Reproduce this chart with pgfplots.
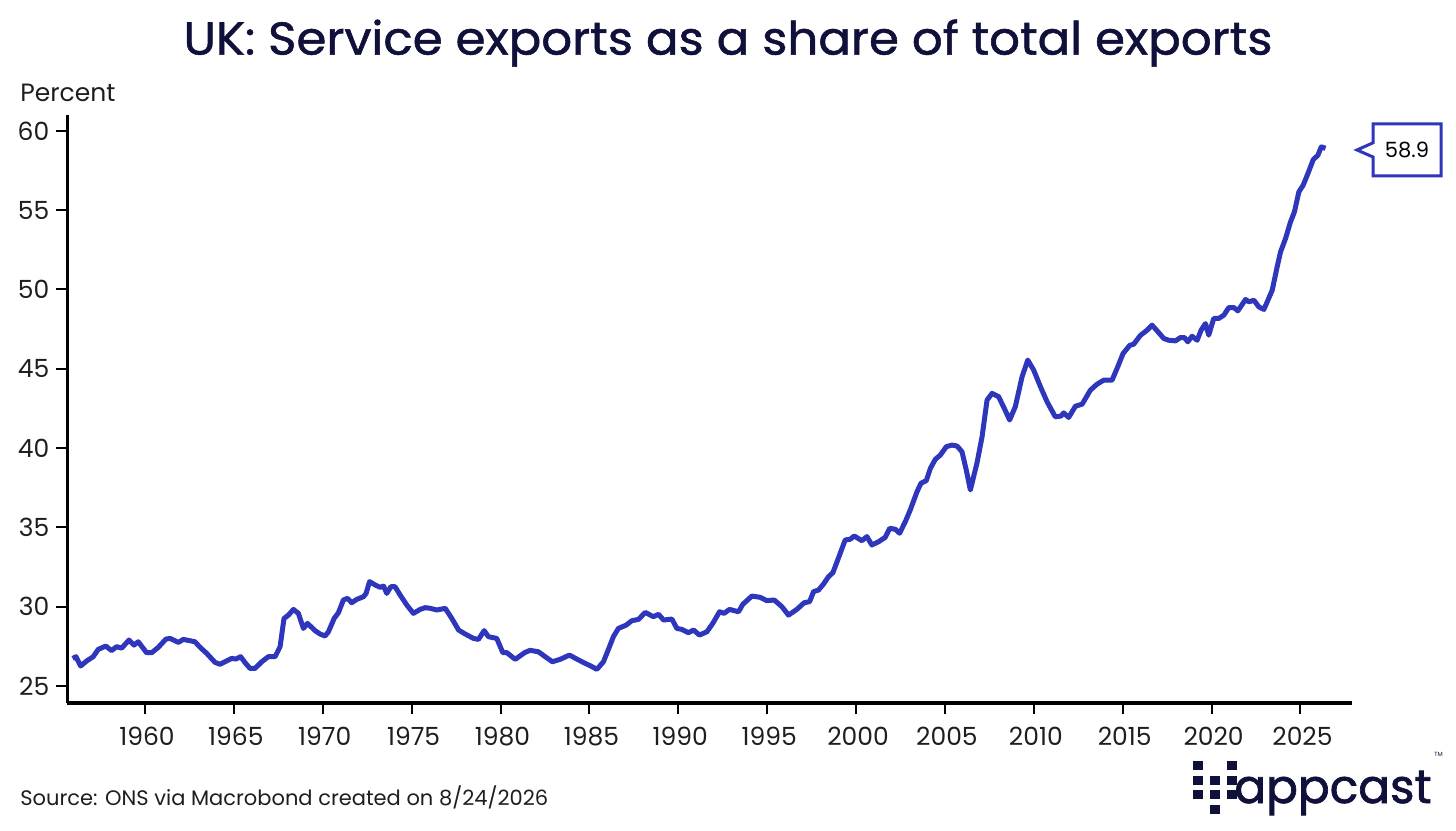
\documentclass[border=0pt]{standalone}
\usepackage{fontspec}
\setmainfont{Poppins}
\newfontfamily\titlefont[FakeBold=1.2, FakeStretch=1.05]{Poppins}
\newfontfamily\logofont[FakeBold=1.5]{Poppins}
\usepackage{pgfplots}
\pgfplotsset{compat=1.18}
\definecolor{lineblue}{HTML}{2E36BC}
\definecolor{navy}{HTML}{10113A}
\definecolor{txt}{HTML}{1E1E1E}
\begin{document}
\begin{tikzpicture}[x=1pt,y=1pt]
\path[use as bounding box] (0,0) rectangle (728,415);
\begin{axis}[
  at={(33.65pt,63.35pt)}, anchor=south west,
  scale only axis, width=642.35pt, height=294.15pt,
  xmin=1955.63, xmax=2027.9, ymin=23.91, ymax=61,
  axis x line=bottom, axis y line=left,
  axis line style={-, line width=1.8pt, black},
  xtick={1960,1965,...,2025}, ytick={25,30,...,60},
  tick align=outside, major tick length=5.5pt,
  tick style={line width=1pt, black},
  ticklabel style={font=\fontsize{12.5}{14}\selectfont, text=txt},
  xticklabel style={yshift=-3pt, xshift=1pt},
  /pgf/number format/assume math mode=true,
  /pgf/number format/1000 sep={},
  clip=false,
]
\addplot[lineblue, line width=2.5pt, line join=round] coordinates {
(1955.93,26.74)(1956.12,26.85)(1956.38,26.26)(1956.72,26.58)(1957.09,26.85)(1957.37,27.31)(1957.80,27.52)(1958.12,27.23)(1958.40,27.48)(1958.69,27.39)
(1959.10,27.90)(1959.38,27.58)(1959.62,27.79)(1960.09,27.10)(1960.38,27.10)(1960.75,27.44)(1961.18,27.96)(1961.41,28.00)(1961.88,27.75)(1962.16,27.94)
(1962.81,27.79)(1963.10,27.44)(1963.47,27.06)(1963.94,26.49)(1964.22,26.37)(1964.50,26.53)(1964.88,26.74)(1965.12,26.70)(1965.38,26.85)(1965.63,26.47)
(1965.91,26.11)(1966.19,26.11)(1966.57,26.53)(1966.94,26.85)(1967.32,26.85)(1967.60,27.48)(1967.82,29.26)(1968.07,29.47)(1968.35,29.83)(1968.63,29.58)
(1968.91,28.63)(1969.14,28.95)(1969.57,28.49)(1969.85,28.28)(1970.13,28.15)(1970.32,28.42)(1970.64,29.26)(1970.88,29.62)(1971.16,30.42)(1971.39,30.53)
(1971.63,30.25)(1971.91,30.46)(1972.29,30.63)(1972.44,30.84)(1972.63,31.58)(1972.95,31.37)(1973.23,31.22)(1973.42,31.30)(1973.60,30.84)(1973.83,31.26)
(1974.07,31.26)(1974.35,30.74)(1974.73,30.10)(1975.10,29.58)(1975.48,29.83)(1975.76,29.94)(1976.04,29.90)(1976.42,29.79)(1976.89,29.90)(1977.26,29.26)
(1977.64,28.53)(1978.01,28.28)(1978.48,28.00)(1978.76,27.94)(1979.08,28.49)(1979.32,28.11)(1979.79,28.00)(1980.13,27.10)(1980.36,27.10)(1980.83,26.68)
(1981.35,27.10)(1981.66,27.25)(1982.13,27.16)(1982.51,26.85)(1982.92,26.53)(1983.35,26.68)(1983.88,26.95)(1984.29,26.70)(1984.76,26.43)(1985.08,26.26)
(1985.42,26.05)(1985.79,26.53)(1986.07,27.31)(1986.35,28.11)(1986.63,28.63)(1987.07,28.84)(1987.39,29.12)(1987.76,29.20)(1988.14,29.64)(1988.60,29.37)
(1988.89,29.52)(1989.17,29.16)(1989.64,29.22)(1989.92,28.63)(1990.20,28.57)(1990.57,28.36)(1990.86,28.53)(1991.19,28.21)(1991.61,28.42)(1991.94,28.95)
(1992.32,29.68)(1992.58,29.58)(1992.88,29.83)(1993.39,29.68)(1993.63,30.15)(1994.14,30.67)(1994.61,30.59)(1994.98,30.38)(1995.40,30.42)(1995.83,30.00)
(1996.20,29.47)(1996.67,29.83)(1997.08,30.25)(1997.39,30.32)(1997.61,30.95)(1997.89,31.05)(1998.17,31.43)(1998.45,31.89)(1998.70,32.15)(1999.02,33.10)
(1999.39,34.21)(1999.67,34.25)(1999.90,34.46)(2000.33,34.16)(2000.61,34.42)(2000.89,33.89)(2001.27,34.10)(2001.64,34.37)(2001.89,34.94)(2002.21,34.88)
(2002.45,34.63)(2002.77,35.36)(2003.05,36.10)(2003.43,37.25)(2003.65,37.78)(2003.95,37.95)(2004.18,38.72)(2004.46,39.29)(2004.74,39.56)(2005.08,40.09)
(2005.40,40.19)(2005.68,40.13)(2005.96,39.77)(2006.20,38.62)(2006.43,37.36)(2006.80,39.04)(2007.09,40.72)(2007.37,43.03)(2007.65,43.45)(2008.02,43.24)
(2008.34,42.50)(2008.64,41.77)(2008.96,42.61)(2009.34,44.50)(2009.66,45.55)(2009.99,44.92)(2010.40,43.80)(2010.75,42.91)(2011.21,41.97)(2011.53,42.02)
(2011.68,42.22)(2011.96,41.93)(2012.34,42.64)(2012.72,42.77)(2013.18,43.65)(2013.56,44.03)(2013.93,44.28)(2014.40,44.28)(2014.72,45.12)(2015.02,45.96)
(2015.40,46.48)(2015.62,46.55)(2016.00,47.11)(2016.37,47.43)(2016.65,47.75)(2016.94,47.39)(2017.31,46.91)(2017.59,46.80)(2017.97,46.76)(2018.25,46.97)
(2018.47,46.97)(2018.66,46.70)(2018.90,47.05)(2019.19,46.80)(2019.41,47.43)(2019.66,47.85)(2019.84,47.12)(2020.12,48.17)(2020.40,48.17)(2020.69,48.38)
(2020.97,48.86)(2021.25,48.86)(2021.48,48.65)(2021.91,49.37)(2022.10,49.22)(2022.38,49.32)(2022.66,48.90)(2022.94,48.74)(2023.13,49.22)(2023.41,49.95)
(2023.69,51.43)(2023.88,52.37)(2024.16,53.21)(2024.44,54.26)(2024.66,54.89)(2024.91,56.15)(2025.15,56.57)(2025.42,57.31)(2025.72,58.19)(2025.98,58.46)
(2026.17,58.99)(2026.41,58.90)
};
\end{axis}
% title
\node[text=navy, font=\titlefont\fontsize{23}{27}\selectfont] at (364,393.5) {UK: Service exports as a share of total exports};
% y label
\node[anchor=west, text=txt, font=\fontsize{12.5}{14}\selectfont, inner sep=0pt] at (10,368.5) {Percent};
% source
\node[anchor=west, text=txt, font=\fontsize{10.5}{12}\selectfont, inner sep=0pt] at (10,16.5) {Source: ONS via Macrobond created on 8/24/2026};
% callout
\draw[lineblue, line width=1.5pt, fill=white, line join=miter]
  (686.5,336.5) -- (678.5,340) -- (686.5,343.6) -- (686.5,353) -- (720.5,353) -- (720.5,327) -- (686.5,327) -- cycle;
\node[text=black, font=\fontsize{10.5}{12}\selectfont] at (703.5,340) {58.9};
% logo
\fill[navy] (596.5,30) rectangle (601.5,34.5);
\fill[navy] (613.5,30) rectangle (618.5,34.5);
\fill[navy] (596.5,22.5) rectangle (601.5,27);
\fill[navy] (605,22.5) rectangle (610,27);
\fill[navy] (613.5,22.5) rectangle (618.5,27);
\fill[navy] (596.5,15.5) rectangle (601.5,20);
\fill[navy] (605,15.5) rectangle (610,20);
\fill[navy] (613.5,15.5) rectangle (618.5,20);
\fill[navy] (605,8) rectangle (610,12.5);
\node[anchor=base west, text=navy, inner sep=0pt, font=\logofont\fontsize{23.5}{28}\selectfont] at (617,13.5) {appcast};
\node[anchor=west, text=navy, inner sep=0pt, font=\fontsize{3}{4}\selectfont] at (717,38) {TM};
\end{tikzpicture}
\end{document}
